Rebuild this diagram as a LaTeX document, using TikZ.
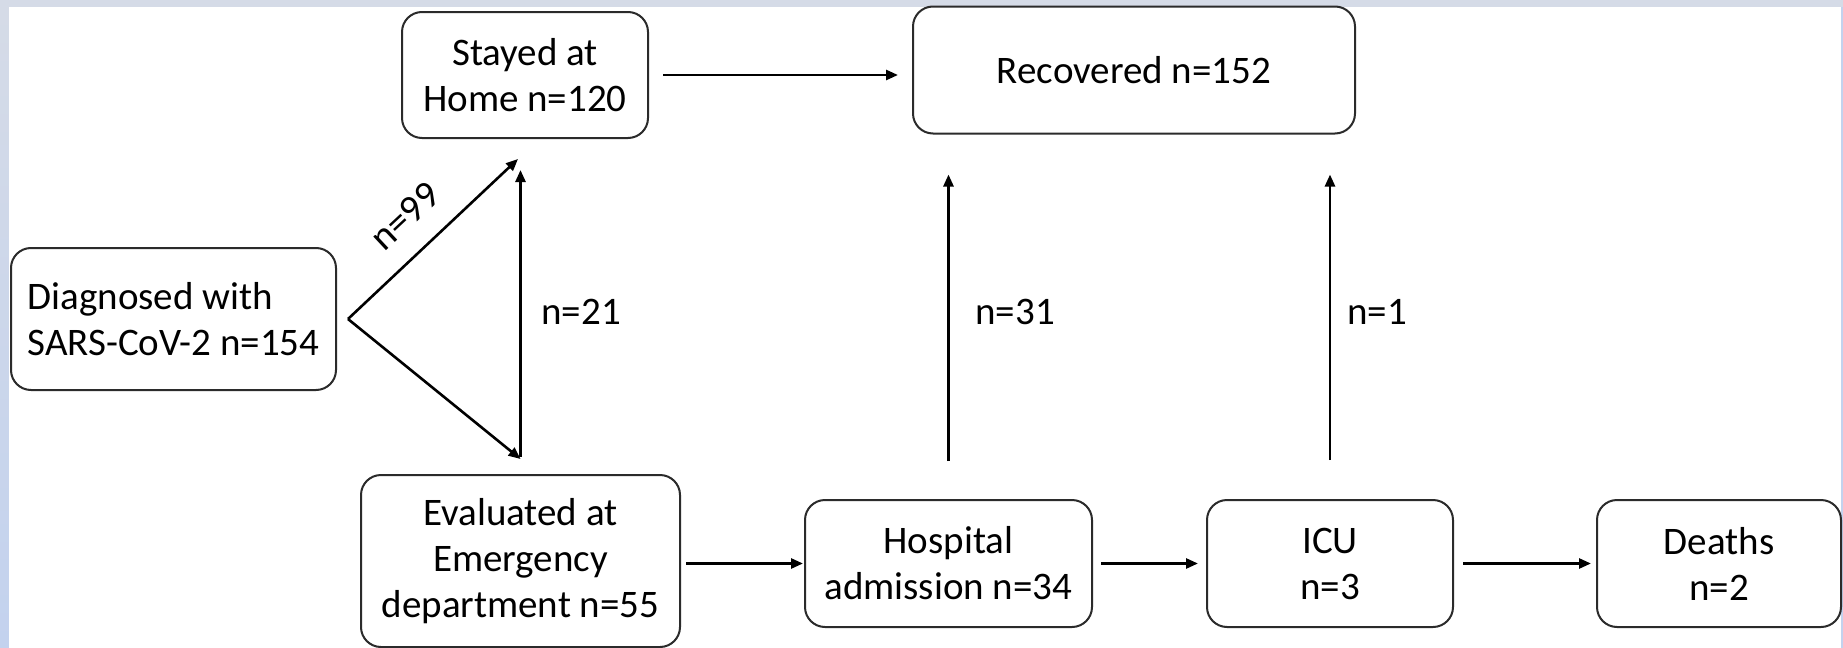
\documentclass[tikz,border=0pt]{standalone}
\usepackage{fontspec}
\setmainfont{Carlito}
\usetikzlibrary{arrows.meta}
\definecolor{framegrey}{HTML}{D5DBE7}
\definecolor{frameblue}{HTML}{C3D2EE}
\definecolor{edge}{HTML}{2B2B2B}
\begin{document}
\begin{tikzpicture}[x=0.5pt,y=-0.5pt,
  box/.style={draw=edge, line width=1pt, rounded corners=10pt, align=center, inner sep=0pt, font=\fontsize{19.5pt}{23pt}\selectfont},
  lbl/.style={font=\fontsize{19.5pt}{23pt}\selectfont, inner sep=0pt},
  arr/.style={draw=black, line width=1.3pt, -{Triangle[length=6pt,width=5pt]}}]
\useasboundingbox (0,0) rectangle (1843,648);
\fill[framegrey] (0,0) rectangle (1843,648);
\shade[top color=framegrey, bottom color=frameblue] (0,7) rectangle (9,648);
\fill[white] (9,7) rectangle (1841,648);
\fill[frameblue] (1841,7) rectangle (1843,648);

\node[box, minimum width=123pt, minimum height=63pt] (stay) at (525,75) {Stayed at\\Home n=120};
\node[box, minimum width=221pt, minimum height=63.5pt] (rec) at (1134,70) {Recovered n=152};
\node[box, align=left, minimum width=162.5pt, minimum height=71pt] (diag) at (173.5,319) {Diagnosed with\\SARS-CoV-2 n=154};
\node[box, minimum width=159.5pt, minimum height=86pt] (eval) at (520.5,561) {Evaluated at\\Emergency\\department n=55};
\node[box, minimum width=143.5pt, minimum height=63.5pt] (hosp) at (948.5,563.5) {Hospital\\admission n=34};
\node[box, minimum width=123pt, minimum height=63.5pt] (icu) at (1330,563.5) {ICU\\n=3};
\node[box, minimum width=122pt, minimum height=63.5pt] (death) at (1719,563.5) {Deaths\\n=2};

\coordinate (apex) at ([xshift=5.5pt]diag.east);
\coordinate (tip99) at ([xshift=-3.5pt,yshift=-10pt]stay.south);
\coordinate (tip55) at ([yshift=7.5pt]eval.north);
\draw[arr] (apex) -- (tip99);
\draw[arr] (apex) -- (tip55);
\draw[arr, shorten <=8.5pt, shorten >=15.5pt] (eval.north) -- (eval.north |- stay.south);
\draw[arr, shorten <=7pt, shorten >=7pt] (stay.east) -- (stay.east -| rec.west);
\draw[arr, shorten <=2.5pt, shorten >=0.5pt] (eval.east |- hosp.west) -- (hosp.west);
\draw[arr, shorten <=4pt, shorten >=4pt] (hosp.east) -- (icu.west);
\draw[arr, shorten <=4.5pt, shorten >=2.5pt] (icu.east) -- (death.west);
\draw[arr, shorten <=19pt, shorten >=20pt] (hosp.north) -- (hosp.north |- rec.south);
\draw[arr, shorten <=19.5pt, shorten >=20pt] (icu.north) -- (icu.north |- rec.south);

\node[lbl, anchor=west] (l21) at (541,312) {n=21};
\node[lbl, anchor=west] (l31) at (975,312) {n=31};
\node[lbl, anchor=west] (l1) at (1347,312) {n=1};
\node[lbl, rotate=43] (l99) at (405,216) {n=99};
\end{tikzpicture}
\end{document}
